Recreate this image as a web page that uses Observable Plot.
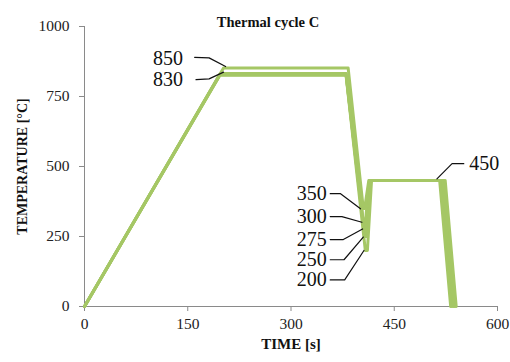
<!DOCTYPE html>
<html><head><meta charset="utf-8">
<script src="https://cdn.jsdelivr.net/npm/d3@7"></script>
<script src="https://cdn.jsdelivr.net/npm/@observablehq/plot@0.6"></script>
<style>body{margin:0;background:#fff}svg{display:block}</style>
</head><body><div id="chart"></div>
<script>
const title = "Thermal cycle C";
const xLabel = "TIME [s]";
const yLabel = "TEMPERATURE [°C]";
const xTicks = [0, 150, 300, 450, 600];
const yTicks = [0, 250, 500, 750, 1000];

// series: peak / intermediate temperature
const seriesNames = ["830/300", "830/275", "830/250", "830/200", "850/350"];
const seriesTime = [
  [0, 198, 380, 405, 408, 414, 518, 534],
  [0, 197, 380, 406, 409, 415, 520, 536],
  [0, 197, 380, 407, 410, 416, 522, 538],
  [0, 196, 380, 408, 411, 417, 524, 540],
  [0, 202, 383, 405, 407, 413, 516, 532]
];
const seriesTemp = [
  [0, 832, 832, 300, 300, 450, 450, 0],
  [0, 830, 830, 275, 275, 450, 450, 0],
  [0, 828, 828, 250, 250, 450, 450, 0],
  [0, 826, 826, 200, 200, 450, 450, 0],
  [0, 852, 852, 350, 350, 450, 450, 0]
];

// annotations (data units): label, label anchor, leader start, elbow, end
const annoText   = ["850", "830", "350", "300", "275", "250", "200", "450"];
const annoSide   = ["end", "end", "end", "end", "end", "end", "end", "start"];
const annoLabelX = [143, 143, 352, 352, 352, 352, 352, 559];
const annoLabelY = [886, 811, 403, 321, 239, 167, 95, 511];
const leadX0 = [160, 162, 357, 357, 357, 357, 357, 512];
const leadY0 = [890, 810, 403, 321, 239, 167, 95, 456];
const leadX1 = [181, 181, 372, 374, 376, 377, 378, 534];
const leadY1 = [888, 813, 403, 321, 239, 167, 95, 510];
const leadX2 = [205, 202, 401, 403, 404, 405, 406, 551];
const leadY2 = [857, 837, 349, 301, 277, 248, 200, 510];

const rows = [];
seriesNames.forEach((s, i) => seriesTime[i].forEach((t, j) => rows.push({s, t, T: seriesTemp[i][j]})));
const leaders = [];
annoText.forEach((a, i) => {
  leaders.push({a, x: leadX0[i], y: leadY0[i]});
  leaders.push({a, x: leadX1[i], y: leadY1[i]});
  leaders.push({a, x: leadX2[i], y: leadY2[i]});
});
const labels = annoText.map((a, i) => ({a, x: annoLabelX[i], y: annoLabelY[i], side: annoSide[i]}));

const green = "#a5c765";
const axisGray = "#8a8a8a";
const font = "Liberation Serif";

const chart = Plot.plot({
  width: 510, height: 362,
  marginLeft: 84, marginRight: 13, marginTop: 26, marginBottom: 56,
  style: {fontFamily: font, fontSize: "15px", color: "#222", background: "#fff"},
  x: {domain: [0, 600]},
  y: {domain: [0, 1000]},
  marks: [
    Plot.axisX({ticks: xTicks, tickFormat: d => String(d), tickSize: 5, tickPadding: 6, stroke: axisGray, fill: "#222", fontSize: 15.5, label: null}),
    Plot.axisY({ticks: yTicks, tickFormat: d => String(d), tickSize: 5, tickPadding: 10, stroke: axisGray, fill: "#222", fontSize: 15.5, label: null}),
    Plot.ruleX([0], {stroke: axisGray}),
    Plot.ruleY([0], {stroke: axisGray}),
    Plot.line(rows, {x: "t", y: "T", z: "s", stroke: green, strokeWidth: 3, strokeLinejoin: "round"}),
    Plot.line(leaders, {x: "x", y: "y", z: "a", stroke: "#111", strokeWidth: 1.2}),
    Plot.text(labels.filter(d => d.side === "end"), {x: "x", y: "y", text: "a", textAnchor: "end", fontSize: 20, fill: "#111"}),
    Plot.text(labels.filter(d => d.side === "start"), {x: "x", y: "y", text: "a", textAnchor: "start", fontSize: 20, fill: "#111"}),
    Plot.text([title], {frameAnchor: "top", dy: -10, dx: -23, textAnchor: "middle", fontWeight: "bold", fontSize: 14.5, fill: "#111"}),
    Plot.text([xLabel], {frameAnchor: "bottom", dy: 42, textAnchor: "middle", fontWeight: "bold", fontSize: 15, fill: "#111"}),
    Plot.text([yLabel], {frameAnchor: "left", dx: -62, rotate: -90, textAnchor: "middle", fontWeight: "bold", fontSize: 14, fill: "#111"})
  ]
});
document.getElementById("chart").appendChild(chart);
</script>
</body></html>
